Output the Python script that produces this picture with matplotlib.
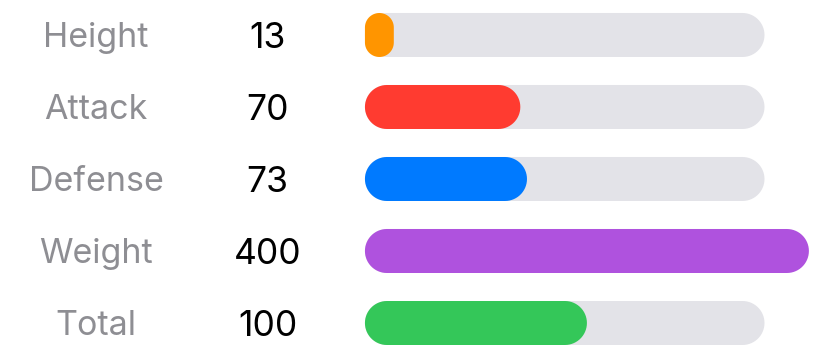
import numpy as np
import matplotlib.pyplot as plt
from matplotlib.patches import Polygon

stats = ["Height", "Attack", "Defense", "Weight", "Total"]
values = [13, 70, 73, 400, 100]
colors = ["#FF9500", "#FF3B30", "#007AFF", "#AF52DE", "#34C759"]
track_max = 180   # grey track length
bar_cap = 200     # longest a filled bar may get

plt.rcParams['font.family'] = ['Inter', 'DejaVu Sans']

fig = plt.figure(figsize=(8.2, 3.59), dpi=100)
ax = fig.add_axes([0, 0, 1, 1])
xmin, xmax = -164.4, 205.0
ymin, ymax = -0.486, 4.5
ax.set_xlim(xmin, xmax)
ax.set_ylim(ymax, ymin)
ax.axis('off')

# size in pixels of one data unit along each axis
px_x = 820 / (xmax - xmin)
px_y = 359 / (ymax - ymin)
bar_px = 44


def capsule(w, y, color):
    # rounded bar built in pixel space, then mapped back to data units
    w_px = w * px_x
    r = min(w_px, bar_px) / 2
    h2 = bar_px / 2 - r
    pts = []
    for cx, cy, a0 in [(w_px - r, -h2, -90), (w_px - r, h2, 0),
                       (r, h2, 90), (r, -h2, 180)]:
        a = np.radians(np.linspace(a0, a0 + 90, 16))
        pts += list(zip(cx + r * np.cos(a), cy + r * np.sin(a)))
    pts = np.array(pts)
    xy = np.column_stack([pts[:, 0] / px_x, y + pts[:, 1] / px_y])
    ax.add_patch(Polygon(xy, closed=True, fc=color, ec='none'))


label_x = 96 / px_x + xmin
value_x = 267.5 / px_x + xmin
for i, (name, v, c) in enumerate(zip(stats, values, colors)):
    capsule(track_max, i, "#E3E3E8")
    capsule(min(v, bar_cap), i, c)
    ax.text(label_x, i + 12.5 / px_y, name, ha='center', va='baseline',
            fontsize=24.5, color="#8E8E93")
    ax.text(value_x, i + 13 / px_y, str(v), ha='center', va='baseline',
            fontsize=25.5, color="black")

fig.savefig("out.png", dpi=100)
